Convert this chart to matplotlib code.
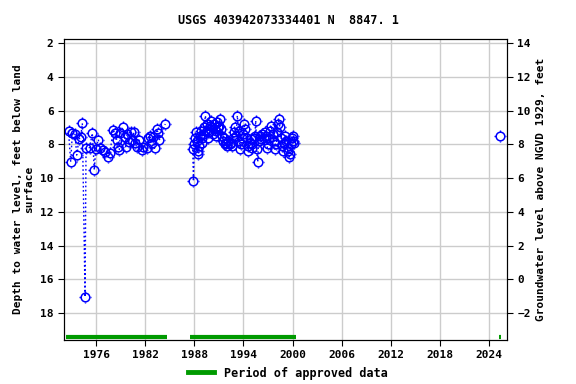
import matplotlib
matplotlib.use("Agg")
import matplotlib.pyplot as plt
import numpy as np
from matplotlib.path import Path
from matplotlib.lines import Line2D

# ---- data ----
seg1_years = [1972.64, 1972.91, 1973.11, 1973.44, 1973.64, 1973.92, 1974.13, 1974.33, 1974.66,
              1974.78, 1975.21, 1975.55, 1975.79, 1975.96, 1976.28, 1976.49, 1976.82, 1977.10,
              1977.43, 1977.71, 1978.08, 1978.32, 1978.53, 1978.63, 1978.84, 1978.97, 1979.24,
              1979.48, 1979.63, 1979.79, 1980.03, 1980.21, 1980.40, 1980.58, 1980.76, 1980.97,
              1981.25, 1981.58, 1981.78, 1982.19, 1982.39, 1982.59, 1982.80, 1983.00, 1983.14,
              1983.41, 1983.61, 1983.75, 1984.45]
seg1_depth = [7.21, 9.05, 7.33, 7.41, 8.64, 7.69, 7.57, 6.76, 17.05,
              8.24, 8.20, 7.35, 9.53, 8.28, 7.72, 8.22, 8.34, 8.44,
              8.76, 8.52, 7.13, 7.33, 7.75, 8.16, 8.34, 7.36, 6.98,
              7.57, 8.15, 7.39, 7.87, 7.26, 7.75, 7.29, 7.94, 8.16,
              7.75, 8.34, 8.15, 8.24, 7.61, 7.48, 7.94, 7.55, 8.24,
              7.11, 7.35, 7.72, 6.80]

seg2_years = [1987.8, 1987.9, 1988.0, 1988.1, 1988.2, 1988.3, 1988.4, 1988.5, 1988.6, 1988.7,
              1988.8, 1988.9, 1989.0, 1989.1, 1989.2, 1989.35, 1989.5, 1989.6, 1989.7, 1989.8,
              1989.9, 1990.0, 1990.1, 1990.25, 1990.4, 1990.5, 1990.6, 1990.7, 1990.8, 1990.9,
              1991.0, 1991.1, 1991.2, 1991.35, 1991.5, 1991.6, 1991.75, 1991.9, 1992.0, 1992.15,
              1992.3, 1992.45, 1992.6, 1992.75, 1992.9, 1993.0, 1993.1, 1993.25, 1993.4, 1993.5,
              1993.6, 1993.75, 1993.85, 1994.0, 1994.1, 1994.25, 1994.4, 1994.5, 1994.6, 1994.75,
              1994.9, 1995.0, 1995.1, 1995.25, 1995.4, 1995.5, 1995.6, 1995.75, 1995.85, 1996.0,
              1996.15, 1996.3, 1996.45, 1996.6, 1996.75, 1996.9, 1997.0, 1997.1, 1997.25, 1997.4,
              1997.55, 1997.7, 1997.85, 1998.0, 1998.1, 1998.2, 1998.3, 1998.45, 1998.6, 1998.7,
              1998.85, 1999.0, 1999.1, 1999.25, 1999.4, 1999.5, 1999.6, 1999.7, 1999.8, 1999.9,
              2000.0, 2000.1, 2000.2]
seg2_depth = [8.3, 10.2, 8.0, 7.6, 7.3, 7.8, 8.4, 8.6, 8.1, 7.5,
              7.2, 7.6, 7.9, 7.4, 7.0, 6.3, 6.8, 7.2, 7.6, 7.3,
              6.9, 6.6, 7.0, 7.4, 6.8, 7.1, 7.5, 7.2, 6.7, 7.0,
              6.9, 6.5, 7.1, 7.5, 7.8, 7.6, 8.0, 7.9, 8.1, 7.8,
              8.0, 7.9, 8.1, 7.6, 7.3, 7.0, 7.5, 6.3, 7.2, 7.8,
              8.3, 8.0, 7.6, 7.4, 6.8, 7.1, 7.6, 8.1, 8.4, 7.9,
              7.7, 8.2, 8.0, 7.6, 7.5, 6.6, 8.3, 9.05, 7.8, 7.5,
              7.7, 7.4, 7.6, 7.3, 7.5, 8.2, 8.0, 7.6, 7.2, 6.9,
              7.4, 7.8, 8.3, 8.0, 7.3, 6.8, 6.5, 7.0, 7.6, 8.1,
              8.4, 7.9, 7.5, 7.8, 8.2, 8.4, 8.75, 8.6, 8.0, 7.6,
              7.8, 7.5, 7.9]

seg3_years = [2025.33]
seg3_depth = [7.51]

approved_periods = [(1972.34, 1984.67), (1987.48, 2000.42), (2025.15, 2025.45)]

xticks = [1976, 1982, 1988, 1994, 2000, 2006, 2012, 2018, 2024]
yticks_left = [2, 4, 6, 8, 10, 12, 14, 16, 18]
yticks_right = [-2, 0, 2, 4, 6, 8, 10, 12, 14]
datum_offset = 16.0

# ---- tick-only marker (placed around the circle) ----
tick_verts = [(0, 0.72), (0, 1.0), (0, -0.72), (0, -1.0),
              (0.72, 0), (1.0, 0), (-0.72, 0), (-1.0, 0)]
tick_codes = [Path.MOVETO, Path.LINETO] * 4
tick_marker = Path(tick_verts, tick_codes)

plt.rcParams['font.family'] = "DejaVu Sans Mono"
plt.rcParams['font.weight'] = 'bold'

fig = plt.figure(figsize=(5.76, 3.84), dpi=100)
ax = fig.add_axes([64/576, 1-340/384, (507-64)/576, (340-39)/384])

blue = '#0000ff'
for ys, ds in [(seg1_years, seg1_depth), (seg2_years, seg2_depth), (seg3_years, seg3_depth)]:
    ax.plot(ys, ds, linestyle=(0, (1.2, 1.8)), color=blue, lw=1.0, zorder=3)
    ax.plot(ys, ds, linestyle='none', marker='o', markersize=6.2, markerfacecolor='none',
            markeredgecolor=blue, markeredgewidth=1.1, zorder=4)
    ax.plot(ys, ds, linestyle='none', marker=tick_marker, markersize=9,
            markeredgecolor=blue, markeredgewidth=1.0, zorder=4)

green = '#009a00'
for a, b in approved_periods:
    ax.plot([a, b], [19.42, 19.42], color=green, lw=3.0, solid_capstyle='butt', zorder=5)

ax.set_xlim(1972.09, 2026.18)
ax.set_ylim(19.6, 1.76)
ax.set_xticks(xticks)
ax.set_yticks(yticks_left)
ax.grid(True, color='#cccccc', lw=1)
ax.set_axisbelow(True)
ax.tick_params(labelsize=8, length=4, direction='out')
for lab in ax.get_xticklabels() + ax.get_yticklabels():
    lab.set_fontweight('bold')

ax.set_ylabel('Depth to water level, feet below land\nsurface', fontsize=8, fontweight='bold')

ax2 = ax.twinx()
lo, hi = ax.get_ylim()
ax2.set_ylim(datum_offset - lo, datum_offset - hi)
ax2.set_yticks(yticks_right)
ax2.tick_params(labelsize=8, length=4)
for lab in ax2.get_yticklabels():
    lab.set_fontweight('bold')
ax2.set_ylabel('Groundwater level above NGVD 1929, feet', fontsize=8, fontweight='bold')

fig.text(0.5, 1-20/384, 'USGS 403942073334401 N  8847. 1', ha='center', va='center',
         fontsize=8.5, fontweight='bold')

h = Line2D([0], [0], color=green, lw=3.5)
fig.legend([h], ['Period of approved data'], loc='center', bbox_to_anchor=(0.5, 1-373/384),
           frameon=False, handlelength=2.2, prop={'weight': 'bold', 'size': 8.5})

fig.savefig('out.png', dpi=100)
